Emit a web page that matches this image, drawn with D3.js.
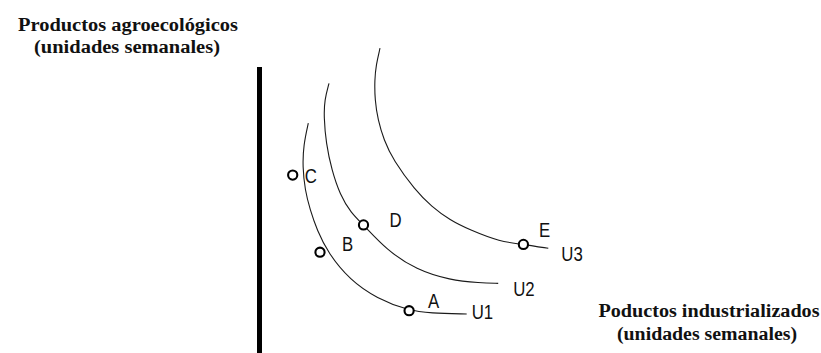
<!DOCTYPE html>
<html>
<head>
<meta charset="utf-8">
<script src="https://cdn.jsdelivr.net/npm/d3@7"></script>
<style>
  body { margin: 0; background: #fff; }
  .title { font-family: "Liberation Serif", "Times New Roman", serif; font-weight: bold; font-size: 18.5px; fill: #111; }
  .lbl { font-family: "Liberation Sans", Arial, sans-serif; font-size: 20.5px; fill: #111; }
</style>
</head>
<body>
<div id="vis"></div>
<script>
// Indifference curves (curvas de indiferencia) — values in "weekly units"

var curveNames = ['U1', 'U2', 'U3'];

// industrial products (x), agroecological products (y)
var u1 = [[16.1, 76.6], [14.5, 69.3], [14.2, 62.1], [15, 54.3], [16.7, 47.7], [19, 41],
          [22.7, 33.3], [30, 24.3], [38.9, 18.2], [49.7, 14.1], [56.7, 13.3], [68.9, 13]];
var u2 = [[23, 89.9], [21.5, 84.3], [21.3, 78.8], [22, 70], [23.9, 61], [26.7, 52.7],
          [30.3, 46.7], [34.5, 42.7], [42.2, 34.3], [52.2, 27.7], [63.3, 24.3], [73.3, 23.4], [79.4, 23.2]];
var u3 = [[40, 101.6], [38.7, 96], [38.2, 91], [38.3, 84.3], [39.3, 77.7], [41.3, 71],
          [44.4, 64.3], [51.7, 54.3], [57.2, 48.8], [63.3, 44.3], [70, 41], [80, 37.1],
          [87.8, 36.2], [96.1, 34.9]];

var pointNames = ['A', 'B', 'C', 'D', 'E'];
var pointX = [49.7, 20, 10.9, 34.5, 87.8];
var pointY = [14.1, 33.6, 59.3, 42.7, 36.2];

var yTitle = ['Productos agroecológicos', '(unidades semanales)'];
var xTitle = ['Poductos industrializados', '(unidades semanales)'];

var W = 821, H = 353;

var svg = d3.select('#vis').append('svg')
  .attr('width', W)
  .attr('height', H);

var xScale = d3.scaleLinear().domain([0, 100]).range([260, 560]);
var yScale = d3.scaleLinear().domain([0, 95]).range([353, 68]);

// vertical axis only (thick bar)
svg.append('line')
  .attr('x1', xScale(0) - 0.5).attr('x2', xScale(0) - 0.5)
  .attr('y1', yScale(95) - 1).attr('y2', yScale(0))
  .attr('stroke', '#000')
  .attr('stroke-width', 5);

var line = d3.line()
  .x(d => xScale(d[0]))
  .y(d => yScale(d[1]))
  .curve(d3.curveBasis);

var curves = [u1, u2, u3];
svg.selectAll('path.ic')
  .data(curves)
  .join('path')
  .attr('class', 'ic')
  .attr('d', line)
  .attr('fill', 'none')
  .attr('stroke', '#1a1a1a')
  .attr('stroke-width', 1.1);

// curve names, placed just past the end of each curve
var nameOff = [[5, 4.5], [15, 13], [13, 13]];
svg.selectAll('text.cname')
  .data(curves)
  .join('text')
  .attr('class', 'lbl cname')
  .attr('transform', (d, i) => {
    var e = d[d.length - 1];
    return `translate(${xScale(e[0]) + nameOff[i][0]},${yScale(e[1]) + nameOff[i][1]}) scale(0.82,1)`;
  })
  .text((d, i) => curveNames[i]);

// points
var pts = pointNames.map((n, i) => ({ name: n, x: pointX[i], y: pointY[i] }));
svg.selectAll('circle.pt')
  .data(pts)
  .join('circle')
  .attr('class', 'pt')
  .attr('cx', d => xScale(d.x))
  .attr('cy', d => yScale(d.y))
  .attr('r', 4.6)
  .attr('fill', '#fff')
  .attr('stroke', '#000')
  .attr('stroke-width', 2.1);

var ptOff = { A: [19, -3], B: [22, -1.5], C: [12, 7.5], D: [26, 2.5], E: [15.5, -7.5] };
svg.selectAll('text.pname')
  .data(pts)
  .join('text')
  .attr('class', 'lbl pname')
  .attr('transform', d => `translate(${xScale(d.x) + ptOff[d.name][0]},${yScale(d.y) + ptOff[d.name][1]}) scale(0.82,1)`)
  .text(d => d.name);

// axis titles
var yt = svg.append('text').attr('class', 'title').attr('text-anchor', 'middle');
yt.append('tspan').attr('x', 128).attr('y', 30.5).attr('textLength', 220).attr('lengthAdjust', 'spacingAndGlyphs').text(yTitle[0]);
yt.append('tspan').attr('x', 127).attr('y', 52.5).attr('textLength', 186).attr('lengthAdjust', 'spacingAndGlyphs').text(yTitle[1]);

var xt = svg.append('text').attr('class', 'title').attr('text-anchor', 'middle');
xt.append('tspan').attr('x', 709).attr('y', 316.5).attr('textLength', 221).attr('lengthAdjust', 'spacingAndGlyphs').text(xTitle[0]);
xt.append('tspan').attr('x', 707).attr('y', 339.5).attr('textLength', 180).attr('lengthAdjust', 'spacingAndGlyphs').text(xTitle[1]);
</script>
</body>
</html>
